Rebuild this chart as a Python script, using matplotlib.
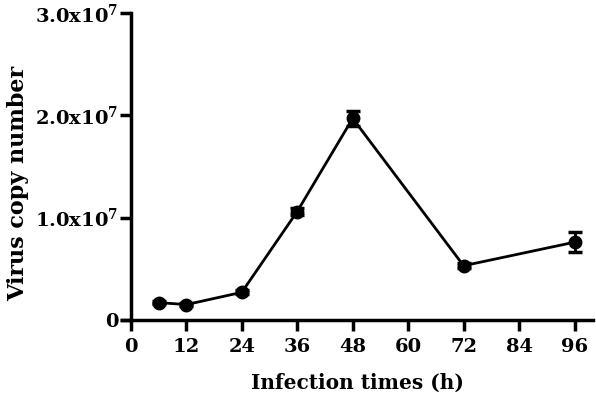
import matplotlib
matplotlib.use("Agg")
import matplotlib.pyplot as plt

hours = [6, 12, 24, 36, 48, 72, 96]
copies = [1.7e6, 1.5e6, 2.7e6, 1.06e7, 1.97e7, 5.3e6, 7.6e6]
errors = [1.5e5, 1.5e5, 2.0e5, 3.0e5, 7.0e5, 2.5e5, 1.0e6]
xticks = [0, 12, 24, 36, 48, 60, 72, 84, 96]
yticks = [0, 1e7, 2e7, 3e7]
ytick_labels = ["0", r"1.0x10$^{7}$", r"2.0x10$^{7}$", r"3.0x10$^{7}$"]

plt.rcParams['font.family'] = ['DejaVu Serif']
plt.rcParams['font.weight'] = 'bold'
plt.rcParams['mathtext.fontset'] = 'custom'
plt.rcParams['mathtext.rm'] = 'DejaVu Serif:bold'
plt.rcParams['mathtext.default'] = 'rm'

fig = plt.figure(figsize=(5.96, 3.95), dpi=100)
ax = fig.add_axes([0.204, 0.19, 0.791, 0.777])

ax.errorbar(hours, copies, yerr=errors, color='black', marker='o', markersize=9,
            linewidth=2, elinewidth=2, capsize=5, capthick=2.5)

ax.set_xlim(-2, 100)
ax.set_ylim(0, 3e7)
ax.spines['left'].set_position(('data', 0))
ax.spines['top'].set_visible(False)
ax.spines['right'].set_visible(False)
for s in ['left', 'bottom']:
    ax.spines[s].set_linewidth(2.5)

ax.set_xticks(xticks)
ax.set_xticklabels([str(t) for t in xticks])
ax.set_yticks(yticks)
ax.set_yticklabels(ytick_labels)
ax.tick_params(axis='both', direction='out', length=8, width=2.5, labelsize=14)
ax.tick_params(axis='x', pad=5)
ax.tick_params(axis='y', pad=1)
for lab in ax.get_xticklabels() + ax.get_yticklabels():
    lab.set_fontweight('bold')

ax.set_xlabel("Infection times (h)", fontsize=14.5, fontweight='bold', labelpad=12)
ax.set_ylabel("Virus copy number", fontsize=16, fontweight='bold')
ax.yaxis.set_label_coords(-0.197, 0.445)

fig.savefig("out.png", dpi=100)
